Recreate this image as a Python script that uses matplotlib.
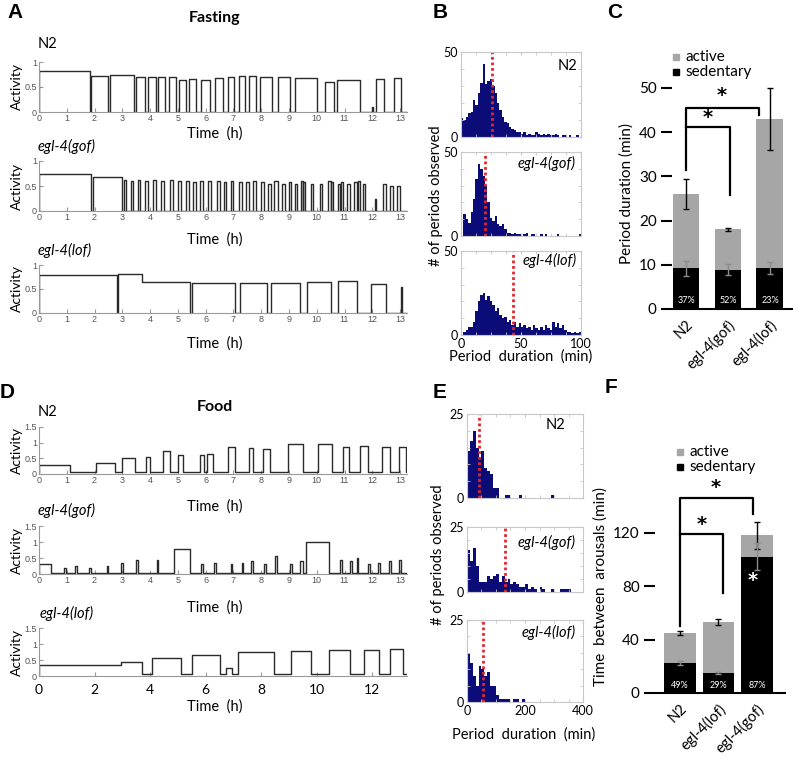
import numpy as np
import matplotlib.pyplot as plt
from matplotlib.patches import Rectangle

# ---------------- data ----------------
# activity traces: (start h, end h, level) of each bout
fast_n2 = [(0.0, 1.82, 0.82), (1.86, 2.50, 0.72), (2.56, 3.42, 0.75), (3.50, 3.82, 0.70),
           (3.93, 4.20, 0.70), (4.30, 4.55, 0.70), (4.68, 4.95, 0.70), (5.05, 5.28, 0.65),
           (5.40, 5.65, 0.66), (5.85, 6.15, 0.65), (6.35, 6.62, 0.68), (6.80, 7.02, 0.70),
           (7.20, 7.40, 0.72), (7.55, 7.80, 0.72), (7.95, 8.40, 0.70), (8.62, 9.05, 0.70),
           (9.20, 10.0, 0.68), (10.30, 10.62, 0.60), (10.72, 11.55, 0.65), (12.0, 12.04, 0.10),
           (12.15, 12.42, 0.67), (12.78, 13.02, 0.68)]
fast_gof = [(0.0, 1.88, 0.75), (1.95, 2.98, 0.68), (3.05, 3.15, 0.62), (3.30, 3.40, 0.60),
            (3.55, 3.65, 0.62), (3.80, 3.92, 0.60), (4.10, 4.20, 0.62), (4.40, 4.50, 0.60),
            (4.70, 4.82, 0.62), (5.00, 5.12, 0.60), (5.30, 5.40, 0.60), (5.55, 5.65, 0.58),
            (5.80, 5.92, 0.60), (6.10, 6.20, 0.60), (6.40, 6.50, 0.60), (6.65, 6.75, 0.58),
            (6.90, 7.00, 0.60), (7.20, 7.30, 0.58), (7.45, 7.55, 0.58), (7.70, 7.82, 0.60),
            (8.00, 8.10, 0.58), (8.25, 8.35, 0.55), (8.45, 8.60, 0.60), (8.75, 8.85, 0.55),
            (9.00, 9.08, 0.58), (9.22, 9.30, 0.55), (9.42, 9.50, 0.60), (9.52, 9.58, 0.58),
            (9.80, 9.88, 0.55), (10.10, 10.18, 0.55), (10.42, 10.50, 0.60), (10.52, 10.60, 0.58),
            (10.75, 10.85, 0.55), (10.88, 10.96, 0.58), (11.10, 11.20, 0.55), (11.35, 11.45, 0.58),
            (11.48, 11.55, 0.60), (11.65, 11.72, 0.55), (12.10, 12.14, 0.25), (12.40, 12.48, 0.55),
            (12.65, 12.73, 0.50), (12.90, 12.98, 0.50)]
fast_lof = [(0.0, 2.80, 0.80), (2.86, 3.70, 0.82), (3.70, 5.45, 0.65), (5.52, 7.05, 0.62),
            (7.22, 8.20, 0.63), (8.35, 9.40, 0.63), (9.65, 10.50, 0.64), (10.78, 11.45, 0.66),
            (11.95, 12.50, 0.60), (13.03, 13.07, 0.55)]

food_n2 = [(0.0, 1.10, 0.28), (2.05, 2.75, 0.35), (3.00, 3.45, 0.50), (3.85, 4.00, 0.55),
           (4.48, 4.72, 0.72), (5.02, 5.20, 0.60), (5.78, 5.95, 0.62), (6.05, 6.25, 0.65),
           (6.80, 7.05, 0.85), (7.55, 7.72, 0.82), (8.05, 8.30, 0.80), (8.95, 9.50, 0.95),
           (10.05, 10.55, 0.95), (10.95, 11.15, 0.85), (11.55, 11.85, 0.90), (12.35, 12.65, 0.85),
           (12.95, 13.20, 0.85)]
food_gof = [(0.0, 0.45, 0.30), (0.90, 0.96, 0.20), (1.30, 1.36, 0.25), (1.80, 1.86, 0.20),
            (2.45, 2.50, 0.25), (2.95, 3.02, 0.35), (3.50, 3.56, 0.45), (4.25, 4.30, 0.45),
            (4.85, 5.45, 0.78), (5.85, 5.90, 0.30), (6.30, 6.36, 0.35), (6.90, 6.96, 0.30),
            (7.30, 7.36, 0.35), (7.65, 7.70, 0.40), (8.10, 8.16, 0.30), (8.50, 8.56, 0.55),
            (9.05, 9.10, 0.30), (9.40, 9.50, 0.40), (9.60, 10.45, 1.00), (10.85, 10.92, 0.45),
            (11.20, 11.26, 0.40), (11.45, 11.50, 0.50), (11.85, 11.90, 0.30), (12.20, 12.26, 0.35),
            (12.60, 12.66, 0.40), (12.95, 13.02, 0.45)]
food_lof = [(0.0, 2.95, 0.33), (2.95, 3.70, 0.45), (4.08, 5.10, 0.55), (5.50, 6.50, 0.65),
            (6.75, 6.95, 0.25), (7.15, 8.45, 0.75), (9.08, 9.80, 0.78), (10.45, 11.20, 0.80),
            (11.70, 12.25, 0.82), (12.65, 13.10, 0.85)]

# period duration histograms (B: 2-min bins, E: 10-min bins)
b_n2 = [11, 10, 12, 14, 15, 22, 19, 26, 32, 43, 31, 33, 34, 30, 26, 20, 16, 12, 9, 8,
        6, 5, 4, 3, 3, 2, 3, 1, 2, 1, 1, 3, 2, 1, 2, 1, 2, 1, 1, 2,
        1, 0, 1, 1, 0, 1, 0, 0, 1, 0]
b_gof = [0, 13, 10, 8, 14, 22, 34, 43, 40, 36, 30, 20, 11, 9, 12, 7, 6, 7, 4, 2,
         2, 1, 2, 1, 1, 0, 1, 2, 0, 1, 1, 0, 0, 1, 0, 1, 0, 0, 0, 0,
         1, 0, 0, 0, 0, 0, 0, 0, 0, 1]
b_lof = [0, 2, 3, 5, 5, 8, 14, 20, 24, 25, 21, 23, 20, 18, 14, 16, 12, 10, 11, 8,
         9, 6, 8, 5, 7, 5, 6, 4, 5, 3, 6, 4, 3, 5, 3, 6, 4, 3, 8, 5,
         7, 4, 6, 3, 2, 2, 1, 2, 1, 2]
b_mean = [26, 20, 43]

e_n2 = [14, 17, 20, 15, 12, 14, 9, 8, 7, 3, 3, 0, 0, 1, 1, 0, 0, 0, 1, 0,
        0, 0, 0, 0, 0, 0, 0, 0, 0, 1, 0, 0, 0, 0, 0, 0, 0, 0, 0, 0]
e_gof = [16, 12, 17, 10, 4, 4, 4, 6, 5, 6, 7, 4, 6, 4, 5, 3, 4, 3, 2, 2,
         3, 1, 2, 1, 0, 2, 1, 0, 0, 1, 0, 0, 1, 1, 1, 1, 0, 0, 0, 0]
e_lof = [15, 12, 8, 5, 11, 10, 8, 9, 5, 5, 2, 1, 1, 1, 1, 0, 1, 1, 0, 1,
         0, 0, 0, 0, 0, 0, 0, 0, 0, 0, 0, 0, 0, 0, 0, 0, 0, 0, 0, 0]
e_mean = [42, 130, 55]

# C: period duration
c_labels = ['N2', 'egl-4(gof)', 'egl-4(lof)']
c_total = [26, 18, 43]
c_total_err = [3.3, 0.4, 7]
c_sed = [9.2, 8.9, 9.3]
c_sed_err = [1.7, 1.2, 1.4]
c_pct = ['37%', '52%', '23%']

# F: time between arousals
f_labels = ['N2', 'egl-4(lof)', 'egl-4(gof)']
f_total = [45, 53, 118]
f_total_err = [1.5, 2, 10]
f_sed = [22.4, 15, 102]
f_sed_err = [1.2, 1, 10]
f_pct = ['49%', '29%', '87%']

# ---------------- layout helpers ----------------
W, H = 793, 759
fig = plt.figure(figsize=(W / 100, H / 100), dpi=100)
TXT = 'Lato'
SMALL = 'Liberation Sans'


def rect(l, t, r, b):
    return [l / W, 1 - b / H, (r - l) / W, (b - t) / H]


def ftext(x, y, s, **kw):
    kw.setdefault('family', TXT)
    fig.text(x / W, 1 - y / H, s, **kw)


def trace_xy(bouts, base, tmax):
    x, y = [0.0], [base]
    prev_end = None
    for s, e, lvl in bouts:
        if prev_end is not None and abs(s - prev_end) < 1e-9:
            x.pop(); y.pop()
            x += [s, e, e]; y += [lvl, lvl, base]
        else:
            x += [s, s, e, e]; y += [base, lvl, lvl, base]
        prev_end = e
    x.append(tmax); y.append(base)
    return x, y


def trace_panel(box, bouts, base, ymax, yticks, ylabels, xticks=range(14), big=False):
    ax = fig.add_axes(rect(*box))
    x, y = trace_xy(bouts, base, 13.25)
    ax.plot(x, y, color='#2a2a2a', lw=1.0)
    ax.set_xlim(0, 13.25)
    ax.set_ylim(0, ymax)
    for s in ['top', 'right']:
        ax.spines[s].set_visible(False)
    for s in ['left', 'bottom']:
        ax.spines[s].set_color('#999999')
    ax.tick_params(direction='in', length=3, color='#999999', labelsize=6.5,
                   labelcolor='#555555', pad=1.5)
    ax.set_xticks(list(xticks))
    ax.set_yticks(yticks, ylabels)
    for t in ax.get_xticklabels() + ax.get_yticklabels():
        t.set_family(SMALL)
    if big:
        ax.tick_params(axis='x', labelsize=10, labelcolor='black', pad=6)
        for t in ax.get_xticklabels():
            t.set_family(TXT)
    ax.set_ylabel('Activity', fontsize=10, family=TXT, labelpad=1)
    return ax


def hist_panel(box, counts, binw, xmax, ymax, mean, bottom=False, xt=None):
    ax = fig.add_axes(rect(*box))
    edges = np.arange(len(counts)) * binw
    ax.bar(edges, counts, width=binw, align='edge', color='#0c0c78', linewidth=0)
    ax.axvline(mean, color='#e3262e', ls=(0, (1, 1)), lw=2)
    ax.set_xlim(0, xmax)
    ax.set_ylim(0, ymax)
    for s in ax.spines.values():
        s.set_color('#c8c8c8')
    ax.set_yticks([0, ymax])
    ax.set_yticks(np.linspace(0, ymax, 6)[1:-1], minor=True)
    ax.set_xticks(xt)
    ax.set_xticks(np.linspace(0, xmax, 9), minor=True)
    ax.tick_params(which='both', direction='in', length=2, color='#c8c8c8',
                   top=True, right=True, labelsize=9, pad=2)
    ax.tick_params(axis='x', labelbottom=bottom)
    for t in ax.get_xticklabels() + ax.get_yticklabels():
        t.set_family(TXT)
    return ax


def bar_panel(box, labels, total, total_err, sed, sed_err, pct, xlim, ylim, yticks, width):
    ax = fig.add_axes(rect(*box))
    x = np.arange(len(labels))
    active = np.array(total) - np.array(sed)
    ax.bar(x, sed, width, color='black', label='sedentary')
    ax.bar(x, active, width, bottom=sed, color='#a6a6a6', label='active')
    ax.errorbar(x, total, yerr=total_err, fmt='none', ecolor='black', elinewidth=1, capsize=2)
    ax.errorbar(x, sed, yerr=sed_err, fmt='none', ecolor='#8c8c8c', elinewidth=1, capsize=2)
    for xi, p in zip(x, pct):
        ax.text(xi, ylim[1] * 0.035, p, color='white', ha='center', va='center',
                fontsize=6.5, family=TXT)
    ax.set_xlim(*xlim)
    ax.set_ylim(*ylim)
    for s in ['top', 'right', 'left']:
        ax.spines[s].set_visible(False)
    ax.spines['bottom'].set_linewidth(1.5)
    ax.set_yticks(yticks)
    ax.tick_params(axis='y', length=8, width=1.5, labelsize=11, pad=3)
    ax.set_xticks(x, labels, rotation=45, ha='right', rotation_mode='anchor')
    ax.tick_params(axis='x', length=0, labelsize=10.5, pad=6)
    for t in ax.get_xticklabels() + ax.get_yticklabels():
        t.set_family(TXT)
    return ax


def bracket(ax, pts, star):
    xs, ys = zip(*pts)
    ax.plot(xs, ys, color='black', lw=1.6, clip_on=False)
    ax.text(star[0], star[1], '*', ha='center', va='center', fontsize=14,
            fontweight='bold', clip_on=False)


def legend_sq(x, y):
    for i, (c, lab) in enumerate([('#a6a6a6', 'active'), ('black', 'sedentary')]):
        yy = y + i * 15
        fig.add_artist(Rectangle(((x - 3) / W, 1 - (yy + 3) / H), 6 / W, 6 / H,
                                 transform=fig.transFigure, color=c))
        ftext(x + 9, yy, lab, fontsize=11, va='center')


# ---------------- panel A ----------------
yt_a = [0, 0.5, 1]
yl_a = ['0', '0.5', '1']
trace_panel((39, 62, 407, 112), fast_n2, 0.0, 1.0, yt_a, yl_a)
trace_panel((39, 161, 407, 211), fast_gof, 0.0, 1.0, yt_a, yl_a)
trace_panel((39, 265, 407, 313), fast_lof, 0.0, 1.0, yt_a, yl_a)
ftext(7, 12, 'A', fontsize=15, fontweight='bold', family=SMALL, va='center')
ftext(215, 18, 'Fasting', fontsize=11.5, fontweight='bold', ha='center', va='center')
ftext(38, 44, 'N2', fontsize=10.5, va='center')
ftext(38, 146, 'egl-4(gof)', fontsize=10.5, style='italic', va='center')
ftext(38, 250, 'egl-4(lof)', fontsize=10.5, style='italic', va='center')
for yy in [134, 240, 344]:
    ftext(215, yy, 'Time  (h)', fontsize=10.5, ha='center', va='center')

# ---------------- panel D ----------------
yt_d = [0, 0.5, 1, 1.5]
yl_d = ['0', '0.5', '1', '1.5']
trace_panel((39, 427, 407, 474), food_n2, 0.07, 1.5, yt_d, yl_d)
trace_panel((39, 526, 407, 574), food_gof, 0.04, 1.5, yt_d, yl_d)
trace_panel((39, 628, 407, 676), food_lof, 0.06, 1.5, yt_d, yl_d,
            xticks=range(0, 13, 2), big=True)
ftext(0, 392, 'D', fontsize=15, fontweight='bold', family=SMALL, va='center')
ftext(215, 407, 'Food', fontsize=11.5, fontweight='bold', ha='center', va='center')
ftext(38, 412, 'N2', fontsize=10.5, va='center')
ftext(38, 510, 'egl-4(gof)', fontsize=10.5, style='italic', va='center')
ftext(40, 613, 'egl-4(lof)', fontsize=10.5, style='italic', va='center')
for yy in [507, 608, 707]:
    ftext(215, yy, 'Time  (h)', fontsize=10.5, ha='center', va='center')

# ---------------- panel B ----------------
hist_panel((461, 52, 581, 137), b_n2, 2, 100, 50, b_mean[0], xt=[0, 50, 100])
hist_panel((461, 152, 581, 236), b_gof, 2, 100, 50, b_mean[1], xt=[0, 50, 100])
hist_panel((461, 251, 581, 335), b_lof, 2, 100, 50, b_mean[2], bottom=True, xt=[0, 50, 100])
ftext(433, 12, 'B', fontsize=15, fontweight='bold', family=SMALL, va='center')
ftext(577, 66, 'N2', fontsize=10.5, ha='right', va='center')
ftext(576, 163, 'egl-4(gof)', fontsize=10.5, style='italic', ha='right', va='center')
ftext(577, 260, 'egl-4(lof)', fontsize=10.5, style='italic', ha='right', va='center')
ftext(436, 196, '# of periods observed', fontsize=10.5, rotation=90, ha='center', va='center')
ftext(521, 357, 'Period  duration  (min)', fontsize=10.5, ha='center', va='center')

# ---------------- panel E ----------------
hist_panel((467, 414, 583, 498), e_n2, 10, 400, 25, e_mean[0], xt=[0, 200, 400])
hist_panel((467, 527, 583, 592), e_gof, 10, 400, 25, e_mean[1], xt=[0, 200, 400])
hist_panel((467, 620, 583, 702), e_lof, 10, 400, 25, e_mean[2], bottom=True, xt=[0, 200, 400])
ftext(433, 392, 'E', fontsize=15, fontweight='bold', family=SMALL, va='center')
ftext(565, 425, 'N2', fontsize=10.5, ha='right', va='center')
ftext(576, 542, 'egl-4(gof)', fontsize=10.5, style='italic', ha='right', va='center')
ftext(576, 632, 'egl-4(lof)', fontsize=10.5, style='italic', ha='right', va='center')
ftext(438, 555, '# of periods observed', fontsize=10.5, rotation=90, ha='center', va='center')
ftext(524, 735, 'Period  duration  (min)', fontsize=10.5, ha='center', va='center')

# ---------------- panel C ----------------
axc = bar_panel((672, 79, 793, 309), c_labels, c_total, c_total_err, c_sed, c_sed_err, c_pct,
                (-0.333, 2.55), (0, 52), [0, 10, 20, 30, 40, 50], 0.64)
bracket(axc, [(0, 31.5), (0, 45.5), (1.74, 45.5), (1.74, 43.8)], (0.86, 48.3))
bracket(axc, [(0, 41.2), (1.05, 41.2), (1.05, 25.8)], (0.52, 43.3))
axc.set_ylabel('Period duration (min)', fontsize=11, family=TXT, labelpad=4)
ftext(607, 12, 'C', fontsize=15, fontweight='bold', family=SMALL, va='center')
legend_sq(676, 57)

# ---------------- panel F ----------------
axf = bar_panel((655, 479, 785, 693), f_labels, f_total, f_total_err, f_sed, f_sed_err, f_pct,
                (-0.65, 2.73), (0, 160), [0, 40, 80, 120], 0.83)
bracket(axf, [(0, 50), (0, 146), (1.9, 146), (1.9, 134)], (0.94, 154))
bracket(axf, [(0, 119), (1.12, 119), (1.12, 75)], (0.57, 126))
axf.text(1.88, 84, '*', color='white', ha='center', va='center', fontsize=14, fontweight='bold')
axf.set_ylabel('Time  between  arousals (min)', fontsize=11, family=TXT, labelpad=4)
ftext(605, 387, 'F', fontsize=15, fontweight='bold', family=SMALL, va='center')
legend_sq(680, 452)

fig.savefig('out.png', dpi=100)
